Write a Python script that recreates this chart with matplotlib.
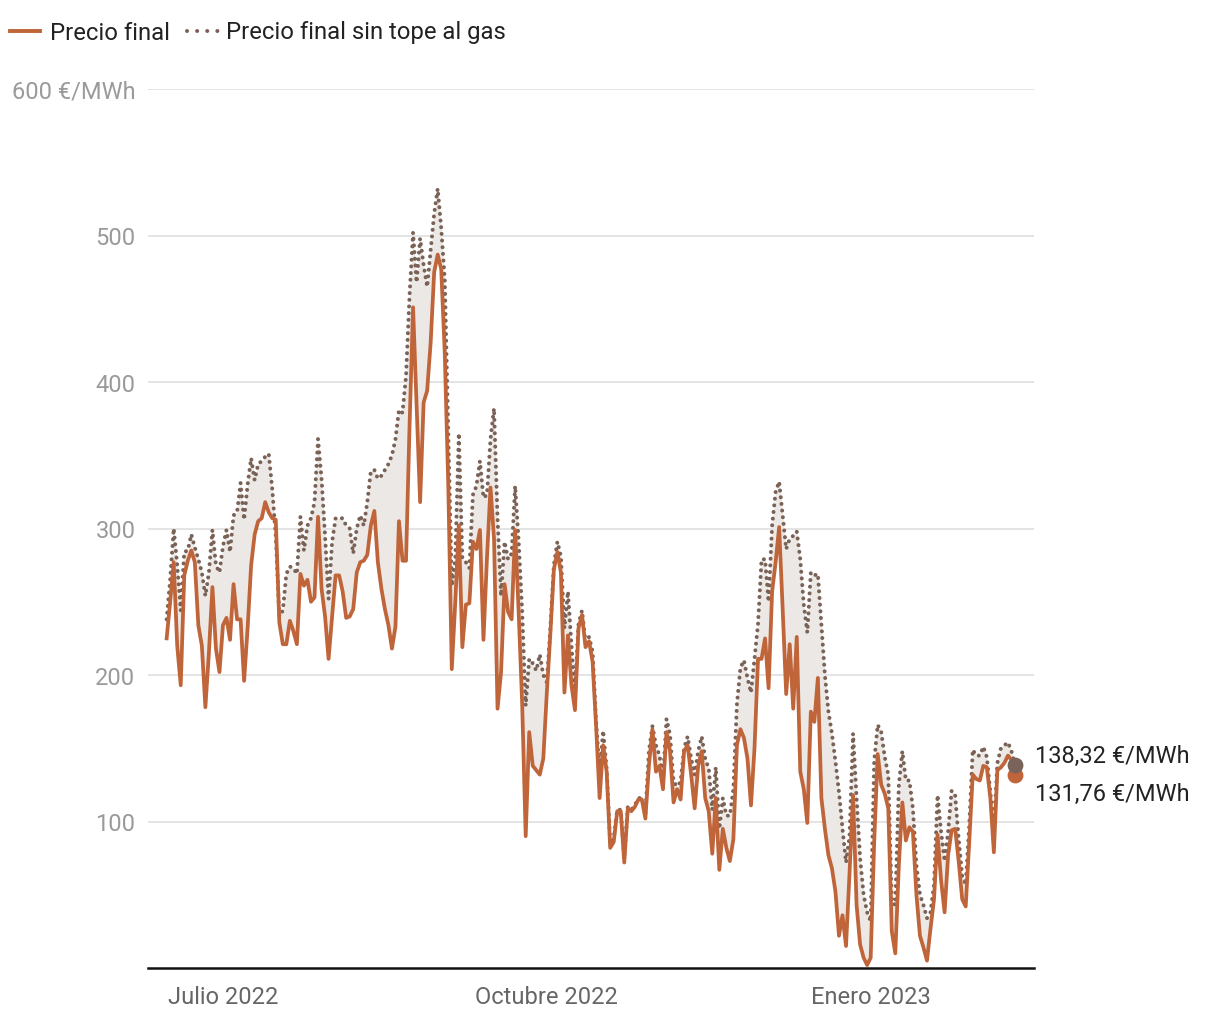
import matplotlib
matplotlib.use("Agg")
import matplotlib.pyplot as plt
from matplotlib.lines import Line2D
import numpy as np
import pandas as pd

plt.rcParams['font.family'] = ['Roboto', 'DejaVu Sans']

start_date = "2022-06-15"

precio_final = [
    225, 250, 277, 220, 193, 268, 278, 285, 277, 234,
    220, 178, 215, 260, 218, 202, 234, 239, 224, 262,
    238, 238, 196, 232, 275, 296, 305, 307, 318, 311,
    307, 306, 236, 221, 221, 237, 230, 221, 269, 261,
    265, 250, 253, 308, 259, 240, 211, 240, 268, 268,
    257, 239, 240, 245, 270, 277, 278, 282, 302, 312,
    277, 259, 245, 234, 218, 233, 305, 278, 278, 370,
    451, 385, 318, 386, 394, 427, 475, 487, 477, 420,
    330, 204, 250, 302, 219, 248, 249, 291, 286, 299,
    224, 280, 328, 293, 177, 202, 262, 243, 238, 299,
    243, 180, 90, 161, 138, 135, 132, 143, 188, 228,
    272, 284, 270, 188, 227, 193, 176, 232, 241, 219,
    223, 209, 165, 116, 152, 134, 82, 86, 107, 107,
    72, 109, 107, 110, 115, 115, 102, 138, 163, 134,
    138, 122, 161, 148, 113, 122, 115, 148, 152, 132,
    109, 138, 148, 116, 107, 78, 116, 67, 95, 82,
    73, 88, 152, 163, 157, 143, 111, 150, 211, 211,
    225, 191, 257, 277, 301, 245, 187, 221, 177, 226,
    134, 122, 99, 175, 168, 198, 116, 95, 77, 68,
    52, 22, 36, 15, 65, 118, 43, 16, 7, 2,
    7, 86, 146, 125, 119, 109, 25, 10, 70, 113,
    87, 96, 93, 50, 22, 14, 5, 27, 47, 91,
    60, 38, 77, 94, 95, 73, 47, 42, 86, 132,
    129, 128, 138, 137, 116, 79, 135, 137, 140, 145,
    142, 131.76,
]

precio_sin_tope = [
    238, 265, 300, 275, 244, 284, 285, 296, 287, 279,
    270, 254, 270, 299, 275, 270, 288, 299, 284, 309,
    311, 331, 306, 330, 348, 333, 344, 346, 349, 351,
    327, 295, 240, 244, 269, 274, 273, 269, 308, 285,
    302, 307, 318, 361, 334, 295, 252, 291, 307, 307,
    307, 302, 300, 283, 300, 309, 302, 318, 339, 340,
    334, 336, 340, 344, 350, 361, 381, 379, 404, 459,
    502, 468, 498, 480, 465, 490, 515, 532, 505, 470,
    365, 261, 279, 365, 280, 277, 273, 323, 329, 346,
    321, 323, 361, 382, 307, 254, 291, 279, 283, 329,
    291, 243, 179, 211, 208, 203, 214, 200, 195, 232,
    275, 291, 281, 232, 257, 220, 188, 235, 244, 222,
    226, 216, 168, 134, 162, 136, 85, 88, 108, 108,
    75, 110, 108, 111, 116, 116, 105, 148, 165, 152,
    145, 129, 170, 159, 127, 124, 127, 150, 158, 143,
    132, 148, 158, 143, 136, 108, 137, 95, 116, 104,
    104, 122, 180, 205, 210, 198, 188, 211, 235, 279,
    279, 250, 302, 325, 332, 309, 286, 293, 295, 298,
    279, 248, 229, 270, 268, 269, 234, 200, 175, 160,
    141, 120, 95, 72, 90, 160, 116, 75, 50, 38,
    32, 141, 166, 161, 144, 132, 45, 43, 125, 148,
    128, 128, 109, 70, 50, 43, 34, 38, 57, 118,
    93, 73, 93, 121, 118, 88, 63, 57, 97, 149,
    145, 145, 151, 144, 120, 95, 140, 150, 152, 154,
    148, 138.32,
]

y_ticks = [100, 200, 300, 400, 500, 600]
y_tick_labels = ["100", "200", "300", "400", "500", "600 €/MWh"]
x_tick_dates = ["2022-07-01", "2022-10-01", "2023-01-01"]
x_tick_labels = ["Julio 2022", "Octubre 2022", "Enero 2023"]
legend_labels = ["Precio final", "Precio final sin tope al gas"]
end_labels = ["138,32 €/MWh", "131,76 €/MWh"]

dates = pd.date_range(start_date, periods=len(precio_final), freq="D")
pf = np.array(precio_final, dtype=float)
ps = np.array(precio_sin_tope, dtype=float)

C_FINAL = "#c0643a"
C_SIN = "#7a6257"
C_FILL = "#ebe8e5"

W, H = 1220, 1020
fig = plt.figure(figsize=(W / 100, H / 100), dpi=100)
ax = fig.add_axes([148 / W, 1 - 969 / H, (1034 - 148) / W, (969 - 90) / H])

ax.fill_between(dates, pf, ps, color=C_FILL, lw=0, zorder=1)
ax.plot(dates, ps, color=C_SIN, lw=2.9, linestyle=(0, (0.01, 1.65)),
        dash_capstyle='round', zorder=3)
ax.plot(dates, pf, color=C_FINAL, lw=2.7, solid_joinstyle='round', zorder=4)

ax.scatter([dates[-1]], [pf[-1]], s=130, color=C_FINAL, zorder=5, lw=0)
ax.scatter([dates[-1]], [ps[-1]], s=130, color="#7a635a", zorder=6, lw=0)

x0 = pd.Timestamp(start_date)
ax.set_xlim(x0 - pd.Timedelta(days=5.3), x0 + pd.Timedelta(days=246.4))
ax.set_ylim(0, 600)

ax.set_yticks(y_ticks)
ax.set_yticklabels(y_tick_labels)
ax.set_xticks(pd.to_datetime(x_tick_dates))
ax.set_xticklabels(x_tick_labels)
ax.tick_params(axis='y', length=0, pad=9, labelsize=17, labelcolor="#9a9a9a")
ax.tick_params(axis='x', length=0, pad=12, labelsize=17, labelcolor="#666666")
ax.grid(axis='y', color="#e2e2e2", lw=1.3)
ax.set_axisbelow(True)
for s in ["top", "right", "left"]:
    ax.spines[s].set_visible(False)
ax.spines["bottom"].set_color("#111111")
ax.spines["bottom"].set_linewidth(1.8)

# end labels
ax.annotate(end_labels[0], xy=(1035 / W, 1 - 756 / H), xycoords='figure fraction',
            ha='left', va='center', fontsize=17, color="#222222")
ax.annotate(end_labels[1], xy=(1035 / W, 1 - 794 / H), xycoords='figure fraction',
            ha='left', va='center', fontsize=17, color="#222222")

# legend
ly = 1 - 32 / H
fig.add_artist(Line2D([10 / W, 40 / W], [ly, ly], color=C_FINAL, lw=2.8,
                      transform=fig.transFigure))
fig.text(50 / W, 1 - 33 / H, legend_labels[0], ha='left', va='center', fontsize=17.2, color="#222222")
fig.add_artist(Line2D([187 / W, 218 / W], [ly, ly], color=C_SIN, lw=2.9,
                      linestyle=(0, (0.01, 2.5)), dash_capstyle='round',
                      transform=fig.transFigure))
fig.text(226 / W, 1 - 33 / H, legend_labels[1], ha='left', va='center', fontsize=17.2, color="#222222")

fig.savefig("out.png", dpi=100, facecolor="white")
